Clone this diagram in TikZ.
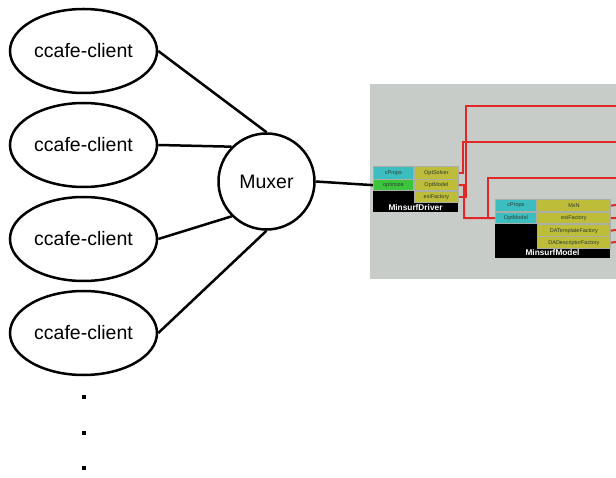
\documentclass[tikz,border=0pt]{standalone}
\usepackage{fontspec}
\setmainfont{Liberation Sans}
\usetikzlibrary{shapes.geometric}
\definecolor{panelgray}{HTML}{C8CCC8}
\definecolor{cellborder}{HTML}{A9AEA9}
\definecolor{cyanc}{HTML}{3CBEC0}
\definecolor{greenc}{HTML}{3CC43C}
\definecolor{yellowc}{HTML}{BDBD3A}
\definecolor{wirered}{HTML}{E02828}
\definecolor{celltext}{HTML}{2E3A30}
\tikzset{
  client/.style={ellipse, draw=black, line width=2.5pt, minimum width=147pt, minimum height=84pt, inner sep=0pt, font=\fontsize{19.5}{22}\selectfont},
  hub/.style={circle, draw=black, line width=2.5pt, minimum size=96pt, inner sep=0pt, font=\fontsize{19.5}{22}\selectfont},
  link/.style={line width=2.5pt, black},
  cell/.style={draw=cellborder, line width=0.8pt, anchor=north west, inner sep=0pt, text=celltext, font=\fontsize{5.5}{6}\selectfont},
  blockname/.style={text=white, inner sep=0pt, font=\fontsize{8.3}{9}\selectfont\bfseries},
  wire/.style={wirered, line width=2pt},
  dotmark/.style={fill=black, inner sep=0pt, minimum size=4pt, draw=none}
}
\begin{document}
\begin{tikzpicture}[x=1pt, y=-1pt]
\useasboundingbox (0,0) rectangle (616,478);
\fill[white] (0,0) rectangle (616,478);

% clients and muxer
\node[client] (c1) at (83.5,51) {ccafe-client};
\node[client] (c2) at (83.5,145) {ccafe-client};
\node[client] (c3) at (83.5,239) {ccafe-client};
\node[client] (c4) at (83.5,333) {ccafe-client};
\node[hub] (mux) at (266.5,181.5) {Muxer};
\draw[link] (c1.east) -- (mux.north);
\draw[link] (c2.east) -- (mux.135);
\draw[link] (c3.east) -- (mux.225);
\draw[link] (c4.east) -- (mux.south);

% dots
\node[dotmark] (d1) at (84,397) {};
\node[dotmark] (d2) at (84,433) {};
\node[dotmark] (d3) at (84,468) {};

% panel
\fill[panelgray] (370,84) rectangle (616,279);

% MinsurfDriver block
\fill[black] (373,191) rectangle (458,212);
\node[cell, fill=cyanc, minimum width=40pt, minimum height=13pt] (dcp) at (373,166) {cProps};
\node[cell, fill=yellowc, minimum width=44pt, minimum height=13pt] (dsolver) at (414,166) {OptSolver};
\node[cell, fill=greenc, minimum width=40pt, minimum height=11.5pt] (dopt) at (373,179) {optimize};
\node[cell, fill=yellowc, minimum width=44pt, minimum height=11.5pt] (dmodel) at (414,179) {OptModel};
\node[cell, fill=yellowc, minimum width=44pt, minimum height=11.5pt] (desi) at (414,191) {esiFactory};
\node[blockname] (dname) at (415.5,207.5) {MinsurfDriver};

% MinsurfModel block
\fill[black] (495,224) rectangle (610,258);
\node[cell, fill=cyanc, minimum width=41pt, minimum height=12.5pt] (mcp) at (495,199) {cProps};
\node[cell, fill=yellowc, minimum width=73pt, minimum height=12.5pt] (mmxn) at (537,199) {MxN};
\node[cell, fill=cyanc, minimum width=41pt, minimum height=11.5pt] (mopt) at (495,212) {OptModel};
\node[cell, fill=yellowc, minimum width=73pt, minimum height=11.5pt] (mesi) at (537,212) {esiFactory};
\node[cell, fill=yellowc, minimum width=73pt, minimum height=11.5pt] (mdat) at (537,224.5) {DATemplateFactory};
\node[cell, fill=yellowc, minimum width=73pt, minimum height=11.5pt] (mdad) at (537,236.5) {DADescriptorFactory};
\node[blockname] (mname) at (552.5,253) {MinsurfModel};

% wire ends at right edge
\coordinate (r1) at (616,106);
\coordinate (r2) at (616,142);
\coordinate (r3) at (616,178);
\coordinate (r4) at (616,205);
\coordinate (r5) at (616,218);
\coordinate (r6) at (616,230);
\coordinate (r7) at (616,242);
\coordinate (jn) at (488,218);

% red wires
\draw[wire] (dsolver.east) -| (463,142) -- (r2);
\draw[wire] (desi.east) -| (466,106) -- (r1);
\draw[wire] (dmodel.east) -| (464,218) -- (mopt.west);
\draw[wire] (jn) -- (488,178) -- (r3);
\draw[wire] (mmxn.east) -- (r4);
\draw[wire] (mesi.east) -- (r5);
\draw[wire] (mdat.east) -- (r6);
\draw[wire] (mdad.east) -- (r7);

% muxer to driver
\draw[link] (mux.east) -- (dopt.west);
\end{tikzpicture}
\end{document}
